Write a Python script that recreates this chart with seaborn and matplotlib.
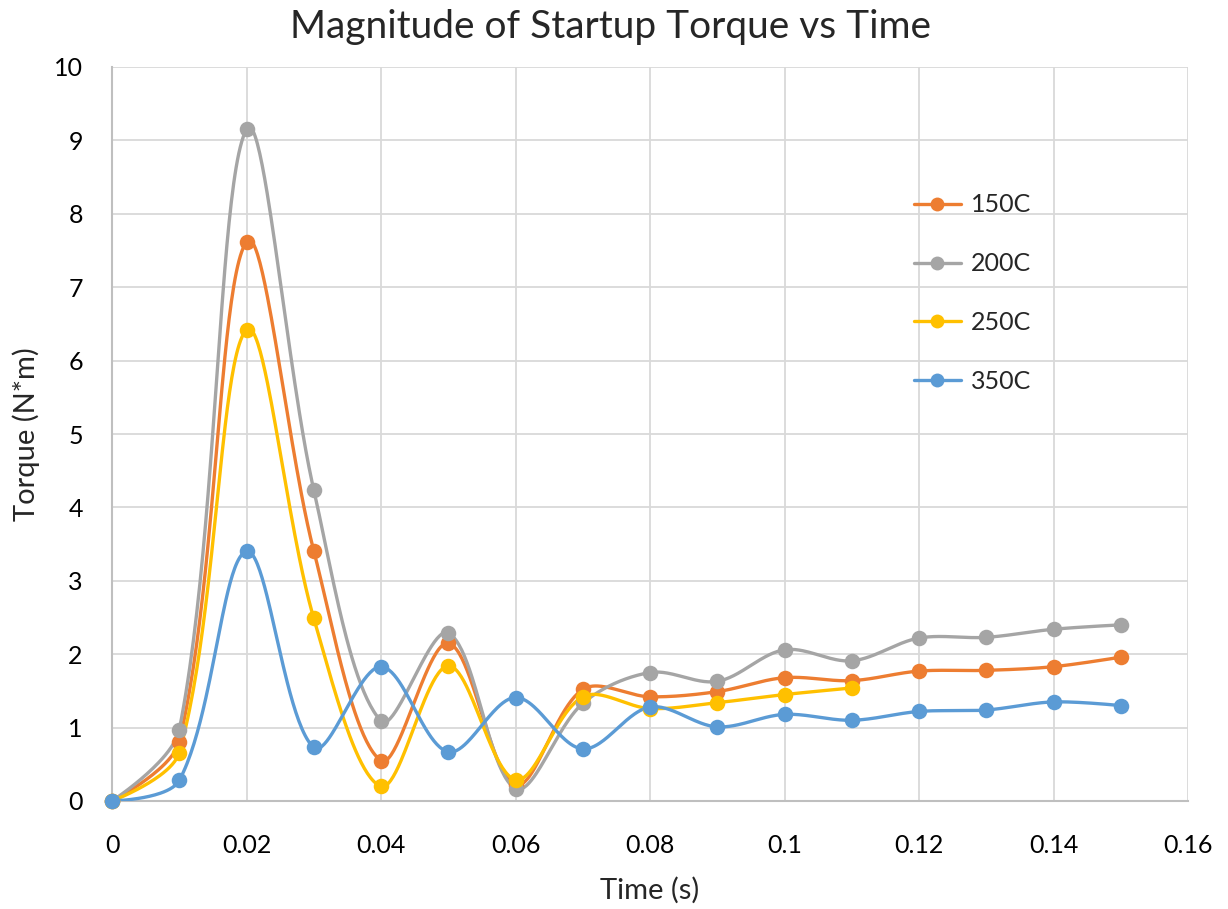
import numpy as np
import pandas as pd
import matplotlib
matplotlib.use("Agg")
import matplotlib.pyplot as plt
from matplotlib.lines import Line2D
import seaborn as sns

# ---- data ----
time_s = [0.00, 0.01, 0.02, 0.03, 0.04, 0.05, 0.06, 0.07, 0.08, 0.09, 0.10, 0.11, 0.12, 0.13, 0.14, 0.15]
torque_150 = [0.0, 0.81, 7.62, 3.41, 0.55, 2.15, 0.22, 1.52, 1.42, 1.49, 1.68, 1.64, 1.77, 1.78, 1.83, 1.96]
torque_200 = [0.0, 0.97, 9.15, 4.24, 1.09, 2.29, 0.17, 1.33, 1.75, 1.63, 2.06, 1.91, 2.22, 2.23, 2.34, 2.40]
torque_250 = [0.0, 0.66, 6.42, 2.49, 0.20, 1.84, 0.29, 1.42, 1.26, 1.34, 1.45, 1.54]
torque_350 = [0.0, 0.28, 3.40, 0.73, 1.83, 0.67, 1.41, 0.71, 1.28, 1.01, 1.18, 1.10, 1.22, 1.24, 1.35, 1.30]

series_names = ["150C", "200C", "250C", "350C"]
series_values = [torque_150, torque_200, torque_250, torque_350]
series_colors = ["#ED7D31", "#A5A5A5", "#FFC000", "#5B9BD5"]

x_ticks = [0, 0.02, 0.04, 0.06, 0.08, 0.10, 0.12, 0.14, 0.16]
x_tick_labels = ["0", "0.02", "0.04", "0.06", "0.08", "0.1", "0.12", "0.14", "0.16"]
y_ticks = list(range(0, 11))

title = "Magnitude of Startup Torque vs Time"
x_label = "Time (s)"
y_label = "Torque (N*m)"

# ---- long table of measured points ----
rows = []
for name, vals in zip(series_names, series_values):
    for t, v in zip(time_s, vals):
        rows.append({"Time": t, "Torque": v, "Series": name})
df = pd.DataFrame(rows)

# screen scale (px per data unit) used only to shape the smoothed line like Excel
SX = (1188 - 112) / 0.16
SY = (801 - 67) / 10.0


def smooth_curve(x, y, n=50, k=1.0 / 3.0):
    """Excel-like smoothed line: Bezier segments, control points scaled by segment lengths."""
    P = np.column_stack([np.asarray(x, float) * SX, np.asarray(y, float) * SY])
    m = len(P)
    xs, ys = [], []
    for i in range(m - 1):
        p1 = P[i]
        p2 = P[i + 1]
        d = np.linalg.norm(p2 - p1)
        if i == 0:
            c1 = p1.copy()
        else:
            p0 = P[i - 1]
            d_prev = np.linalg.norm(p1 - p0)
            c1 = p1 + (p2 - p0) * (d / (d_prev + d)) * k
        if i == m - 2:
            c2 = p2.copy()
        else:
            p3 = P[i + 2]
            d_next = np.linalg.norm(p3 - p2)
            c2 = p2 - (p3 - p1) * (d / (d + d_next)) * k
        t = np.linspace(0, 1, n, endpoint=(i == m - 2))[:, None]
        pts = ((1 - t) ** 3) * p1 + 3 * ((1 - t) ** 2) * t * c1 + 3 * (1 - t) * t ** 2 * c2 + t ** 3 * p2
        xs.append(pts[:, 0] / SX)
        ys.append(pts[:, 1] / SY)
    return np.concatenate(xs), np.concatenate(ys)


sns.set_theme(style="white")
plt.rcParams["font.family"] = ["Lato", "DejaVu Sans"]

fig = plt.figure(figsize=(12.28, 9.09), dpi=100)
ax = fig.add_axes([112 / 1228, 1 - 801 / 909, (1188 - 112) / 1228, (801 - 67) / 909])

for name, color in zip(series_names, series_colors):
    sub = df[df["Series"] == name]
    sx, sy = smooth_curve(sub["Time"].values, sub["Torque"].values)
    sns.lineplot(x=sx, y=sy, sort=False, ax=ax, color=color, linewidth=2.4,
                 legend=False, estimator=None, zorder=3)
    sns.scatterplot(data=sub, x="Time", y="Torque", ax=ax, color=color, s=125,
                    edgecolor=color, linewidth=0, legend=False, zorder=4, clip_on=False)

ax.set_xlim(0, 0.16)
ax.set_ylim(0, 10)
ax.set_xticks(x_ticks)
ax.set_xticklabels(x_tick_labels)
ax.set_yticks(y_ticks)
ax.grid(True, color="#D9D9D9", linewidth=1.3, zorder=0)
ax.set_axisbelow(True)
for side in ["top", "right"]:
    ax.spines[side].set_visible(False)
for side in ["left", "bottom"]:
    ax.spines[side].set_color("#BFBFBF")
    ax.spines[side].set_linewidth(1.5)
ax.tick_params(axis="both", length=0, labelsize=18, colors="black")
ax.tick_params(axis="y", pad=21)
ax.tick_params(axis="x", pad=24)

ax.set_xlabel(x_label, fontsize=21, labelpad=14)
ax.set_ylabel(y_label, fontsize=21, labelpad=10)
fig.text(0.497, 0.99, title, ha="center", va="top", fontsize=28)

handles = [Line2D([0], [0], color=c, linewidth=2.4, marker="o", markersize=10,
                  markeredgewidth=0) for c in series_colors]
leg = fig.legend(handles, series_names, loc="upper left",
                 bbox_to_anchor=(891 / 1228, 1 - 171 / 909), frameon=False,
                 fontsize=18, labelspacing=1.43, handlelength=1.9, handletextpad=0.4)

fig.savefig("out.png", dpi=100)
